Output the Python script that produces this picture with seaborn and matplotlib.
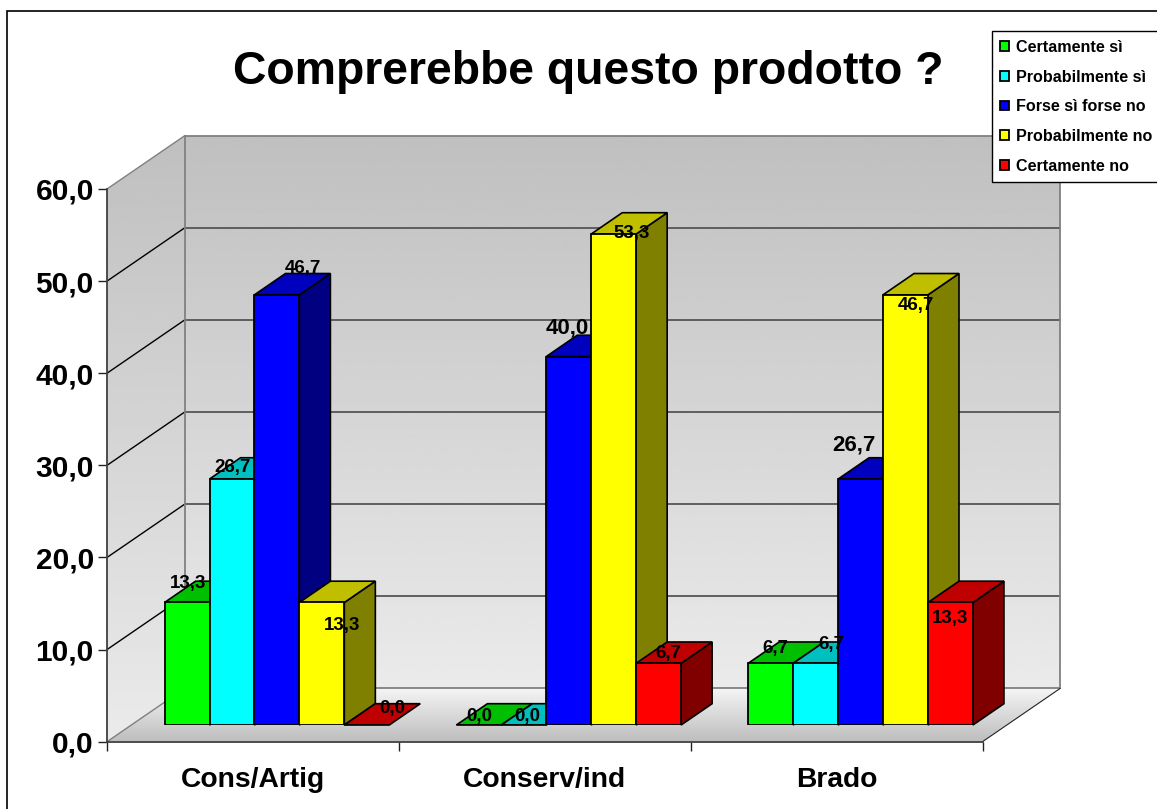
import matplotlib
matplotlib.use("Agg")
import matplotlib.pyplot as plt
from matplotlib.patches import Polygon, Rectangle
import numpy as np
import pandas as pd
import seaborn as sns

categories = ["Cons/Artig", "Conserv/ind", "Brado"]
answers = ["Certamente sì", "Probabilmente sì", "Forse sì forse no", "Probabilmente no", "Certamente no"]
certamente_si = [13.3, 0.0, 6.7]
probabilmente_si = [26.7, 0.0, 6.7]
forse = [46.7, 40.0, 26.7]
probabilmente_no = [13.3, 53.3, 46.7]
certamente_no = [0.0, 6.7, 13.3]
y_ticks = [0, 10, 20, 30, 40, 50, 60]
y_labels = ["0,0", "10,0", "20,0", "30,0", "40,0", "50,0", "60,0"]

colors = ["#00FF00", "#00FFFF", "#0000FF", "#FFFF00", "#FF0000"]

# pixel layout of the fake 3d box
W, H = 1157, 809
FRONT_L, FRONT_R, FRONT_0, FRONT_60 = 107, 982.5, 741.7, 189
WALL_DX, WALL_DY = 77.7, 53.3
BAR_DX, BAR_DY = 24, 16.7
DEPTH_DX, DEPTH_DY = 31, 21.3

# label offsets in pixels from the top centre of the bar, row per answer
label_dx = [[1, 0, 5], [1, 3, 16], [26, -1, -7], [20, 18, 10], [25, 10, 0]]
label_dy = [[19, 9, 15], [12, 9, 19], [26, 29, 34], [-23, 1, -11], [16, 10, -16]]
label_big = [(2, 1), (2, 2)]

sns.set_theme(style="white")
plt.rcParams["font.family"] = ["Liberation Sans", "DejaVu Sans"]
plt.rcParams["font.weight"] = "bold"

df = pd.DataFrame({
    "category": categories * 5,
    "answer": np.repeat(answers, 3),
    "value": certamente_si + probabilmente_si + forse + probabilmente_no + certamente_no,
})

fig = plt.figure(figsize=(W / 100, H / 100), dpi=100)


def make_axes(left, right, bottom, top, z):
    a = fig.add_axes([left / W, 1 - bottom / H, (right - left) / W, (bottom - top) / H])
    a.set_zorder(z)
    a.patch.set_alpha(0)
    return a


# background layer in image pixels
bg = make_axes(0, W, H, 0, 0)
bg.set_xlim(0, W)
bg.set_ylim(H, 0)
bg.axis("off")
bg.add_patch(Rectangle((6.5, 10.5), 1200, 900, fc="white", ec="black", lw=1.2))


def gradient_poly(pts, top_grey, bottom_grey):
    poly = Polygon(pts, closed=True, fc="none", ec="none")
    bg.add_patch(poly)
    ys = [p[1] for p in pts]
    xs = [p[0] for p in pts]
    grad = np.linspace(top_grey, bottom_grey, 256).reshape(-1, 1)
    im = bg.imshow(grad, cmap="gray", vmin=0, vmax=1, aspect="auto",
                   extent=[min(xs), max(xs), max(ys), min(ys)], zorder=1)
    im.set_clip_path(poly)


back_l = FRONT_L + WALL_DX
back_r = FRONT_R + WALL_DX
back_top = FRONT_60 - WALL_DY
back_bot = FRONT_0 - WALL_DY
gradient_poly([(back_l, back_top), (back_r, back_top), (back_r, back_bot), (back_l, back_bot)], 0.75, 0.92)
gradient_poly([(FRONT_L, FRONT_60), (back_l, back_top), (back_l, back_bot), (FRONT_L, FRONT_0)], 0.75, 0.92)
gradient_poly([(back_l, back_bot), (back_r, back_bot), (FRONT_R, FRONT_0), (FRONT_L, FRONT_0)], 0.96, 0.74)
bg.set_xlim(0, W)
bg.set_ylim(H, 0)

for t in y_ticks:
    y = FRONT_0 - (FRONT_0 - FRONT_60) * t / 60
    is_edge = t in (0, 60)
    bg.plot([FRONT_L, back_l], [y, y - WALL_DY], color="#808080" if is_edge else "black", lw=1.0, zorder=2)
    bg.plot([back_l, back_r], [y - WALL_DY, y - WALL_DY], color="#808080" if is_edge else "#555555", lw=1.3, zorder=2)
bg.plot([back_l, back_l], [back_top, back_bot], color="#808080", lw=1.3, zorder=2)
bg.plot([back_r, back_r], [back_top, back_bot], color="#808080", lw=1.3, zorder=2)
bg.plot([FRONT_R, back_r], [FRONT_0, back_bot], color="#222222", lw=0.8, zorder=2)

# front plane carries the axes and tick labels
front = make_axes(FRONT_L, FRONT_R, FRONT_0, FRONT_60, 1)
front.set_xlim(-0.5, 2.5)
front.set_ylim(0, 60)
front.set_yticks(y_ticks)
front.set_yticklabels(y_labels, fontsize=21.5, fontweight="bold")
front.set_xticks(range(3))
front.set_xticklabels(categories, fontsize=20.3, fontweight="bold")
front.set_xticks([-0.5, 0.5, 1.5, 2.5], minor=True)
front.tick_params(axis="y", length=6.5, width=1, color="#222222", left=True, pad=3, labelcolor="black")
front.tick_params(axis="x", which="major", length=0, pad=18.5, bottom=False, labelcolor="black")
front.tick_params(axis="x", which="minor", length=6.5, width=1, color="#222222", bottom=True)
sns.despine(ax=front)
for s in ("left", "bottom"):
    front.spines[s].set_color("#404040")
    front.spines[s].set_linewidth(1.3)

# bars sit further back in the box
ax = make_axes(FRONT_L + BAR_DX, FRONT_R + BAR_DX, FRONT_0 - BAR_DY, FRONT_60 - BAR_DY, 2)
sns.barplot(data=df, x="category", y="value", hue="answer", hue_order=answers, palette=colors,
            order=categories, width=0.77, gap=0, saturation=1, edgecolor="black", linewidth=1.3, ax=ax)
ax.set_xlim(-0.5, 2.5)
ax.set_ylim(0, 60)
ax.axis("off")

# seaborn leaves a zero width patch behind for the legend, skip it
bars = sorted([p for p in ax.patches if p.get_width() > 0], key=lambda p: p.get_x())
for i, bar in enumerate(bars):
    rgb = np.array(matplotlib.colors.to_rgb(bar.get_facecolor()))
    bar.set_zorder(10 + 3 * i + 2)
    x0, x1 = bar.get_x(), bar.get_x() + bar.get_width()
    h = bar.get_height()
    p0 = ax.transData.transform([(x0, h), (x1, h), (x1, 0)])
    top = Polygon([p0[0], p0[1], p0[1] + (DEPTH_DX, DEPTH_DY), p0[0] + (DEPTH_DX, DEPTH_DY)], closed=True,
                  transform=None, fc=rgb * 0.75, ec="black", lw=1.2, zorder=10 + 3 * i + 1, clip_on=False)
    ax.add_artist(top)
    if h > 0:
        side = Polygon([p0[1], p0[2], p0[2] + (DEPTH_DX, DEPTH_DY), p0[1] + (DEPTH_DX, DEPTH_DY)], closed=True,
                       transform=None, fc=rgb * 0.5, ec="black", lw=1.2, zorder=10 + 3 * i, clip_on=False)
        ax.add_artist(side)

# value labels, in the odd places the original has them
by_answer = [certamente_si, probabilmente_si, forse, probabilmente_no, certamente_no]
for a, vals in enumerate(by_answer):
    for c, v in enumerate(vals):
        x = c - 0.385 + 0.154 * (a + 0.5)
        size = 16 if (a, c) in label_big else 13.5
        ax.annotate(f"{v:.1f}".replace(".", ","), (x, v), xytext=(label_dx[a][c] * 0.72, label_dy[a][c] * 0.72),
                    textcoords="offset points", ha="center", va="center", fontsize=size,
                    fontweight="bold", color="black", zorder=200, annotation_clip=False)

fig.text(588.5 / W, 1 - 72 / H, "Comprerebbe questo prodotto ?", ha="center", va="center",
         fontsize=33.4, fontweight="bold", color="black")

sns.move_legend(ax, loc="upper left", bbox_to_anchor=(991.5 / W, 1 - 31 / H), bbox_transform=fig.transFigure,
                title=None, frameon=True, fontsize=11.6, labelspacing=0.91, handlelength=0.55, handleheight=0.55,
                handletextpad=0.45, borderpad=0.55, borderaxespad=0, labelcolor="black")
leg = ax.get_legend()
leg.set_zorder(300)
leg.get_frame().set_edgecolor("black")
leg.get_frame().set_linewidth(1)
leg.get_frame().set_boxstyle("square", pad=0)
leg.get_frame().set_alpha(1)

fig.savefig("out.png", dpi=100)
